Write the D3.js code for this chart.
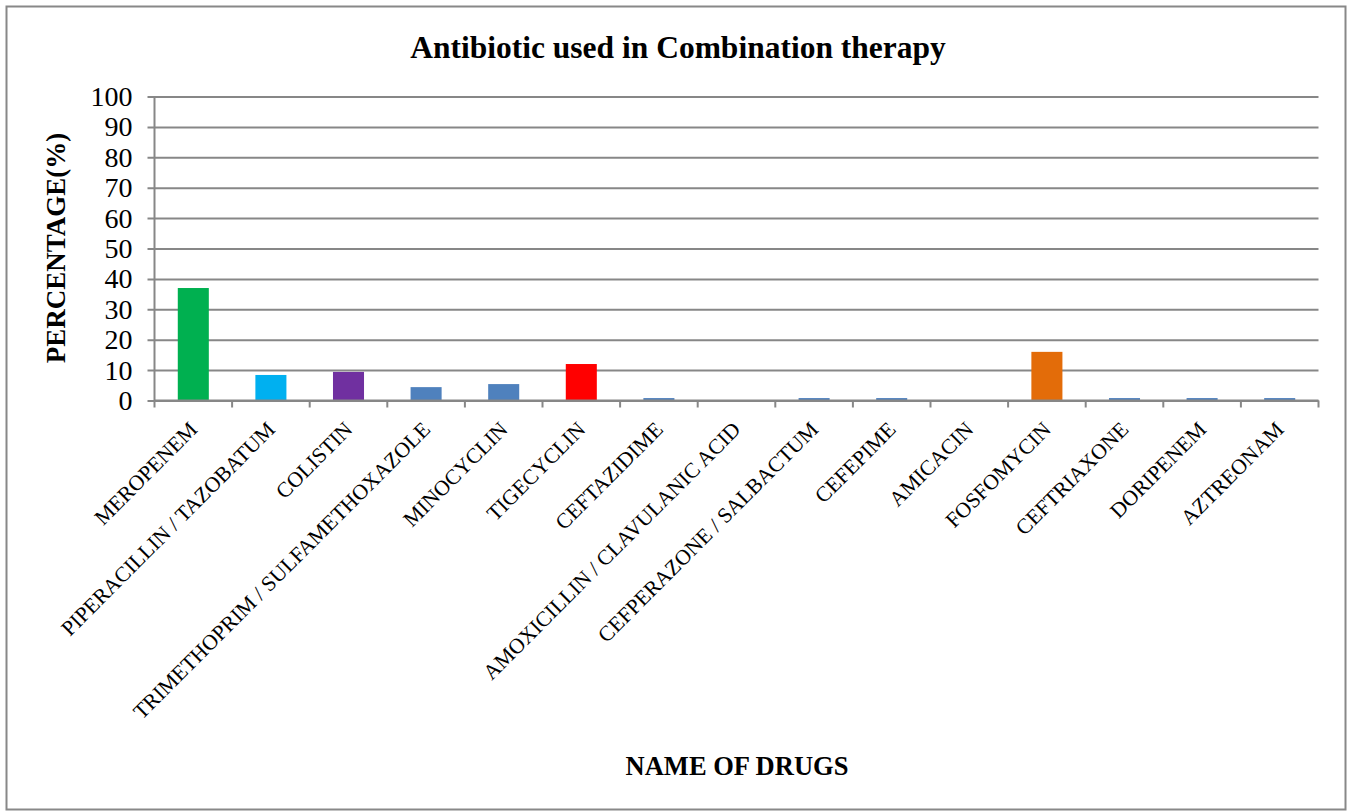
<!DOCTYPE html>
<html>
<head>
<meta charset="utf-8">
<script src="https://cdn.jsdelivr.net/npm/d3@7"></script>
<style>
  html, body { margin: 0; padding: 0; background: #fff; }
  svg { display: block; }
  text { font-family: "Liberation Serif", "Times New Roman", serif; fill: #000; }
</style>
</head>
<body>
<svg id="chart" width="1348" height="811"></svg>
<script>
// Drugs used in combination therapy and their share (%)
const drugs = [
  "MEROPENEM", "PIPERACILLIN / TAZOBATUM", "COLISTIN",
  "TRIMETHOPRIM / SULFAMETHOXAZOLE", "MINOCYCLIN", "TIGECYCLIN",
  "CEFTAZIDIME", "AMOXICILLIN / CLAVULANIC ACID", "CEFPERAZONE / SALBACTUM",
  "CEFEPIME", "AMICACIN", "FOSFOMYCIN", "CEFTRIAXONE", "DORIPENEM", "AZTREONAM"
];
const percentages = [37, 8.4, 9.4, 4.4, 5.4, 12, 0.8, 0, 0.8, 0.8, 0, 16, 0.8, 0.8, 0.8];
const barColors = [
  "#00B050", "#00B0F0", "#7030A0", "#4F81BD", "#4F81BD", "#FF0000",
  "#4F81BD", "#4F81BD", "#4F81BD", "#4F81BD", "#4F81BD", "#E36C09",
  "#4F81BD", "#4F81BD", "#4F81BD"
];
const yTicks = [0, 10, 20, 30, 40, 50, 60, 70, 80, 90, 100];

const svg = d3.select("#chart");
const plot = { left: 154.5, right: 1318.5, top: 96.5, bottom: 400.5 };
const gridColor = "#878787";

// Outer chart frame
svg.append("rect")
  .attr("x", 6.5).attr("y", 6.5)
  .attr("width", 1339).attr("height", 803)
  .attr("fill", "#fff")
  .attr("stroke", "#888").attr("stroke-width", 2);

const x = d3.scaleBand()
  .domain(drugs)
  .range([plot.left, plot.right])
  .paddingInner(0.6)
  .paddingOuter(0.3);

const y = d3.scaleLinear()
  .domain([0, 100])
  .range([plot.bottom, plot.top]);

// Horizontal gridlines with outward ticks
const yAxis = d3.axisLeft(y)
  .tickValues(yTicks)
  .tickSize(-(plot.right - plot.left))
  .tickSizeOuter(0)
  .tickPadding(22)
  .tickFormat(d3.format("d"));

const gy = svg.append("g")
  .attr("transform", `translate(${plot.left},0)`)
  .call(yAxis);
gy.select(".domain").remove();
gy.selectAll(".tick line")
  .attr("x1", -7)
  .attr("stroke", gridColor).attr("stroke-width", 2);
gy.selectAll(".tick text")
  .attr("font-size", 28)
  .attr("font-family", "Liberation Serif, Times New Roman, serif")
  .attr("fill", "#000");

// Vertical axis line
svg.append("line")
  .attr("x1", plot.left).attr("x2", plot.left)
  .attr("y1", plot.top).attr("y2", plot.bottom)
  .attr("stroke", gridColor).attr("stroke-width", 2);

// Bars
svg.append("g")
  .selectAll("rect")
  .data(drugs)
  .join("rect")
  .attr("x", d => x(d))
  .attr("width", x.bandwidth())
  .attr("y", (d, i) => y(percentages[i]))
  .attr("height", (d, i) => y(0) - y(percentages[i]))
  .attr("fill", (d, i) => barColors[i]);

// Category axis: baseline and boundary ticks
const step = x.step();
const boundaries = d3.range(drugs.length + 1).map(i => plot.left + i * step);
svg.append("line")
  .attr("x1", plot.left).attr("x2", plot.right)
  .attr("y1", plot.bottom).attr("y2", plot.bottom)
  .attr("stroke", gridColor).attr("stroke-width", 2);
svg.append("g")
  .selectAll("line")
  .data(boundaries)
  .join("line")
  .attr("x1", d => d).attr("x2", d => d)
  .attr("y1", plot.bottom).attr("y2", plot.bottom + 7)
  .attr("stroke", gridColor).attr("stroke-width", 2);

// Rotated category labels
svg.append("g")
  .selectAll("text")
  .data(drugs)
  .join("text")
  .attr("transform", d => {
    const cx = x(d) + x.bandwidth() / 2;
    return `translate(${cx},${plot.bottom + 25}) rotate(-45)`;
  })
  .attr("text-anchor", "end")
  .attr("dy", "0.35em")
  .attr("font-size", 21.5)
  .text(d => d);

// Title
svg.append("text")
  .attr("x", 678).attr("y", 58)
  .attr("text-anchor", "middle")
  .attr("font-size", 31.5)
  .attr("font-weight", "bold")
  .text("Antibiotic used in Combination therapy");

// Axis titles
svg.append("text")
  .attr("x", 737).attr("y", 775)
  .attr("text-anchor", "middle")
  .attr("font-size", 26.5)
  .attr("font-weight", "bold")
  .text("NAME OF DRUGS");

svg.append("text")
  .attr("transform", `translate(65,248) rotate(-90)`)
  .attr("text-anchor", "middle")
  .attr("font-size", 27)
  .attr("font-weight", "bold")
  .text("PERCENTAGE(%)");
</script>
</body>
</html>
